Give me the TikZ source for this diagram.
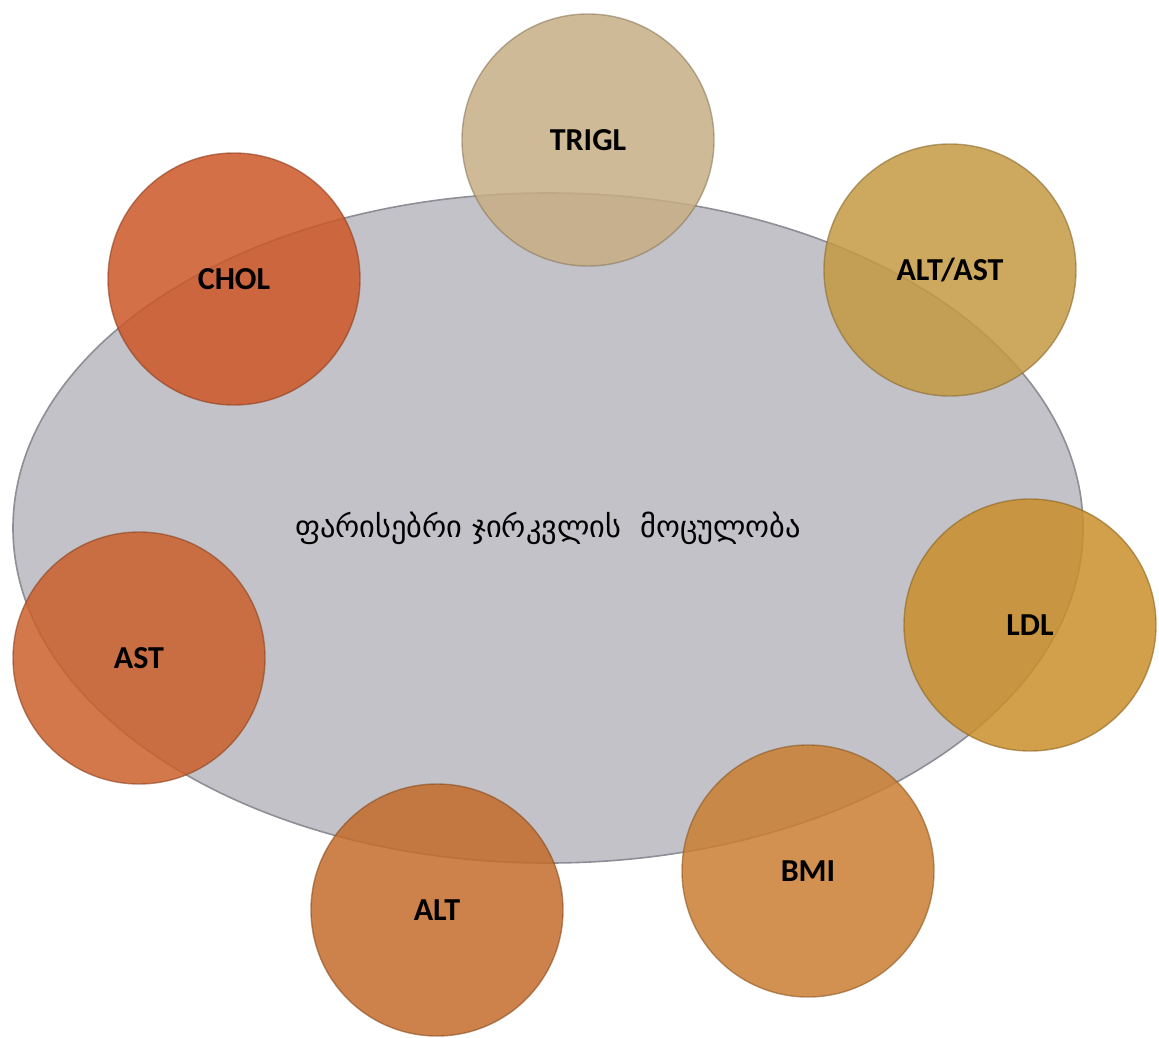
\documentclass[tikz,border=0pt]{standalone}
\usepackage{fontspec}
\setmainfont{Carlito}
\newfontfamily\geofont{DejaVu Sans}
\usepackage{tikz}
\usetikzlibrary{shapes.geometric}
\definecolor{glandgray}{HTML}{C2C2C8}
\definecolor{glandedge}{HTML}{8E8E96}
\definecolor{cTrigl}{HTML}{C7AE85}
\definecolor{cAltAst}{HTML}{C49943}
\definecolor{cLdl}{HTML}{CA8F2B}
\definecolor{cBmi}{HTML}{CA7E31}
\definecolor{cAlt}{HTML}{C46C2B}
\definecolor{cAst}{HTML}{CA602B}
\definecolor{cChol}{HTML}{CD5728}

\begin{document}
\begin{tikzpicture}[
      x=0.5pt,y=-0.5pt,
      gland/.style={ellipse,minimum width=535pt,minimum height=335pt,
        fill=glandgray,draw=glandedge,line width=0.8pt,
        font=\geofont\fontsize{15.2}{18}\selectfont},
      factor/.style={circle,minimum size=126pt,inner sep=0pt,
        fill=#1,fill opacity=0.85,text opacity=1,
        draw=#1!70!black,draw opacity=0.6,line width=0.7pt,
        font=\bfseries\fontsize{16}{18}\selectfont}
    ]
    \useasboundingbox (0,0) rectangle (1159,1037);

    % central ellipse
    \node[gland] (vol) at (548,528) {ფარისებრი ჯირკვლის\ \ მოცულობა};

    % surrounding factors
    \node[factor=cTrigl]  (trigl)  at (588,140) {TRIGL};
    \node[factor=cAltAst] (altast) at (950,270) {ALT/AST};
    \node[factor=cLdl]    (ldl)    at (1030,625) {LDL};
    \node[factor=cBmi]    (bmi)    at (808,871) {BMI};
    \node[factor=cAlt]    (alt)    at (437,910) {ALT};
    \node[factor=cAst]    (ast)    at (139,658) {AST};
    \node[factor=cChol]   (chol)   at (234,279) {CHOL};
  \end{tikzpicture}
\end{document}
